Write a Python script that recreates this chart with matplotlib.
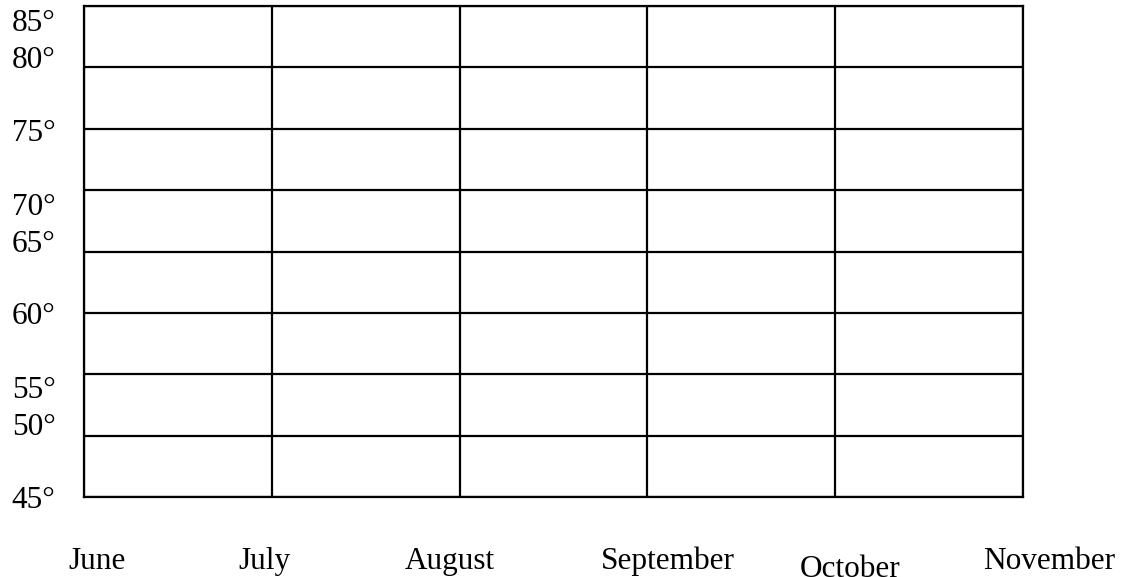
import numpy as np
import matplotlib.pyplot as plt

plt.rcParams['font.family'] = ['Liberation Serif', 'DejaVu Serif']

# blank worksheet grid: temperature rows, month columns
temps = [45, 50, 55, 60, 65, 70, 75, 80, 85]
temp_labels = ['%d°' % t for t in temps]
months = ['June', 'July', 'August', 'September', 'October', 'November']

# where the labels were placed on the sheet (data units, they are not on the lines)
temp_label_y = [44.7, 50.7, 53.7, 59.7, 65.6, 68.6, 74.65, 80.6, 83.6]
month_label_x = [0.07, 0.96, 1.95, 3.11, 4.08, 5.14]
month_label_y = [39.1, 39.1, 39.1, 39.1, 38.5, 39.1]

fig = plt.figure(figsize=(11.25, 5.77), dpi=100)
ax = fig.add_axes([84 / 1125, 1 - 497 / 577, (1023 - 84) / 1125, (497 - 6) / 577])

ax.set_xlim(0, 5)
ax.set_ylim(45, 85)
ax.set_xticks(np.arange(0, 6))
ax.set_yticks(temps)
ax.tick_params(length=0, labelbottom=False, labelleft=False)
ax.grid(True, color='black', linewidth=1.6)
for sp in ax.spines.values():
    sp.set_linewidth(1.6)
    sp.set_color('black')

for lab, y in zip(temp_labels, temp_label_y):
    ax.text(-0.385, y, lab, ha='left', va='center', fontsize=22.5, clip_on=False)

for lab, x, y in zip(months, month_label_x, month_label_y):
    ax.text(x, y, lab, ha='center', va='baseline', fontsize=22.5, clip_on=False)

fig.savefig('out.png', dpi=100)
